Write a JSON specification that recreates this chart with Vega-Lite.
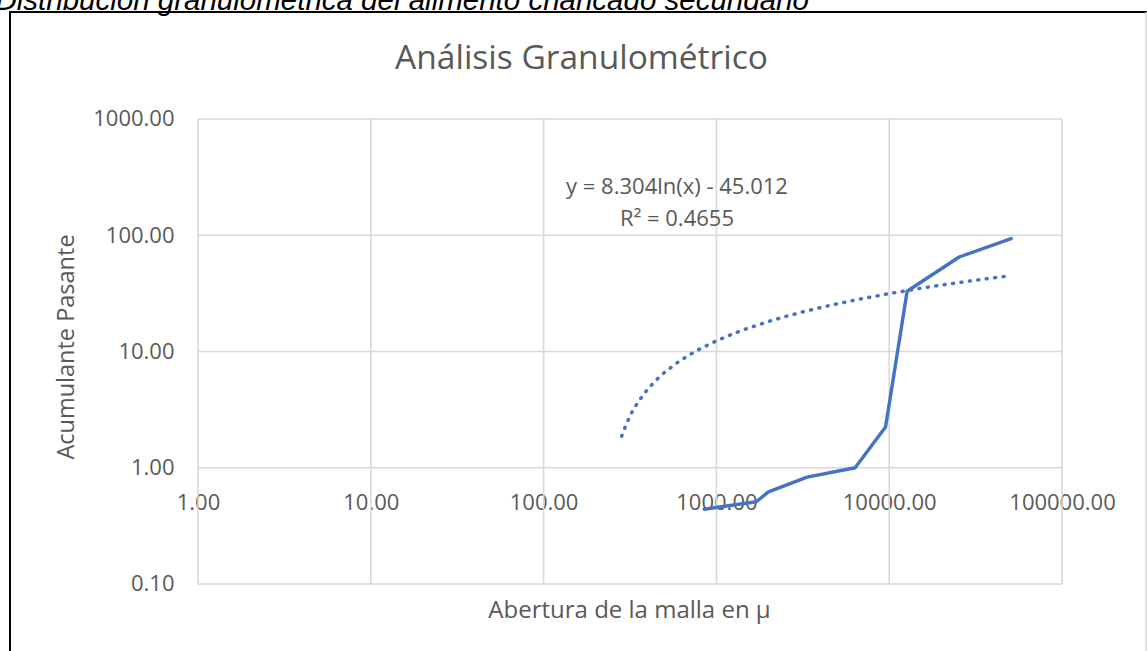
{
  "$schema": "https://vega.github.io/schema/vega-lite/v6.json",
  "width": 1140,
  "height": 645,
  "autosize": {"type": "none"},
  "padding": {"left": 10, "top": 12, "right": 0, "bottom": 0},
  "background": "white",
  "config": {
    "view": {"stroke": "#000000", "strokeWidth": 2, "fill": "white"},
    "font": "Open Sans"
  },
  "datasets": {
    "tamiz": [
      {"abertura": 850, "pasante": 0.44},
      {"abertura": 1700, "pasante": 0.51},
      {"abertura": 2000, "pasante": 0.62},
      {"abertura": 3350, "pasante": 0.83},
      {"abertura": 6350, "pasante": 1.0},
      {"abertura": 9525, "pasante": 2.24},
      {"abertura": 12700, "pasante": 33.0},
      {"abertura": 25400, "pasante": 65.0},
      {"abertura": 50800, "pasante": 93.7}
    ],
    "tendencia": [
      {"abertura": 283, "pasante": 1.867},
      {"abertura": 300, "pasante": 2.352},
      {"abertura": 325, "pasante": 3.017},
      {"abertura": 350, "pasante": 3.632},
      {"abertura": 400, "pasante": 4.741},
      {"abertura": 450, "pasante": 5.719},
      {"abertura": 500, "pasante": 6.594},
      {"abertura": 600, "pasante": 8.108},
      {"abertura": 700, "pasante": 9.388},
      {"abertura": 800, "pasante": 10.497},
      {"abertura": 1000, "pasante": 12.35},
      {"abertura": 1250, "pasante": 14.203},
      {"abertura": 1500, "pasante": 15.717},
      {"abertura": 2000, "pasante": 18.106},
      {"abertura": 2500, "pasante": 19.959},
      {"abertura": 3000, "pasante": 21.473},
      {"abertura": 4000, "pasante": 23.861},
      {"abertura": 5000, "pasante": 25.715},
      {"abertura": 7000, "pasante": 28.509},
      {"abertura": 10000, "pasante": 31.47},
      {"abertura": 15000, "pasante": 34.838},
      {"abertura": 20000, "pasante": 37.227},
      {"abertura": 30000, "pasante": 40.594},
      {"abertura": 40000, "pasante": 42.982},
      {"abertura": 50800, "pasante": 44.968}
    ],
    "ecuacion": [
      {"linea1": "y = 8.304ln(x) - 45.012", "linea2": "R² = 0.4655"}
    ],
    "xgrid": [{"v": 1}, {"v": 10}, {"v": 100}, {"v": 1000}, {"v": 10000}, {"v": 100000}],
    "ygrid": [{"v": 0.1}, {"v": 1}, {"v": 10}, {"v": 100}, {"v": 1000}]
  },
  "resolve": {"axis": {"x": "independent", "y": "independent"}},
  "layer": [
    {
      "data": {"name": "ecuacion"},
      "mark": {"type": "rule", "color": "#d9d9d9", "strokeWidth": 1.5},
      "encoding": {
        "x": {"datum": 306300, "type": "quantitative", "scale": {"type": "log", "domain": [0.08166, 323000], "nice": false, "zero": false}, "axis": null},
        "y": {"datum": 0.02355, "type": "quantitative", "scale": {"type": "log", "domain": [0.02355, 8326], "nice": false, "zero": false}, "axis": null},
        "y2": {"datum": 8326}
      }
    },
    {
      "data": {"name": "xgrid"},
      "mark": {"type": "rule", "color": "#d9d9d9", "strokeWidth": 1.6},
      "encoding": {
        "x": {"field": "v", "type": "quantitative", "scale": {"type": "log", "domain": [0.08166, 323000], "nice": false, "zero": false}, "axis": null},
        "y": {"datum": 0.1, "type": "quantitative", "scale": {"type": "log", "domain": [0.02355, 8326], "nice": false, "zero": false}, "axis": null},
        "y2": {"datum": 1000}
      }
    },
    {
      "data": {"name": "ygrid"},
      "mark": {"type": "rule", "color": "#d9d9d9", "strokeWidth": 1.6},
      "encoding": {
        "y": {"field": "v", "type": "quantitative", "scale": {"type": "log", "domain": [0.02355, 8326], "nice": false, "zero": false}, "axis": null},
        "x": {"datum": 1, "type": "quantitative", "scale": {"type": "log", "domain": [0.08166, 323000], "nice": false, "zero": false}, "axis": null},
        "x2": {"datum": 100000}
      }
    },
    {
      "data": {"name": "tendencia"},
      "mark": {"type": "line", "color": "#4472C4", "strokeWidth": 3.5, "strokeDash": [1, 7.5], "strokeCap": "round"},
      "encoding": {
        "x": {
          "field": "abertura", "type": "quantitative",
          "scale": {"type": "log", "domain": [0.08166, 323000], "nice": false, "zero": false},
          "axis": {
            "orient": "top", "domain": false, "ticks": false, "labels": false, "grid": false, "tickSize": 0,
            "title": "Análisis Granulométrico", "titleFont": "Open Sans", "titleFontSize": 33.5, "titleFontWeight": "normal",
            "titleColor": "#595959", "titleX": 571, "titleY": 56, "titleAlign": "center", "titleBaseline": "alphabetic"
          }
        },
        "y": {
          "field": "pasante", "type": "quantitative",
          "scale": {"type": "log", "domain": [0.02355, 8326], "nice": false, "zero": false},
          "axis": {
            "orient": "right", "domain": false, "ticks": false, "labels": false, "grid": false, "tickSize": 0,
            "title": "Distribución granulométrica del alimento chancado secundario",
            "titleFont": "Liberation Sans", "titleFontStyle": "italic", "titleFontSize": 29.5, "titleFontWeight": "normal",
            "titleColor": "#000000", "titleAngle": 0, "titleX": -1155, "titleY": -3, "titleAlign": "left", "titleBaseline": "alphabetic"
          }
        }
      }
    },
    {
      "data": {"name": "tamiz"},
      "mark": {"type": "line", "color": "#4472C4", "strokeWidth": 3.4, "strokeJoin": "round", "strokeCap": "round"},
      "encoding": {
        "x": {
          "field": "abertura", "type": "quantitative",
          "scale": {"type": "log", "domain": [0.08166, 323000], "nice": false, "zero": false},
          "axis": {
            "orient": "bottom", "offset": -189.5, "domain": false, "ticks": false, "tickSize": 0, "grid": false,
            "values": [1, 10, 100, 1000, 10000, 100000], "format": ".2f",
            "labelFont": "Open Sans", "labelFontSize": 22, "labelColor": "#595959",
            "labelBaseline": "alphabetic", "labelPadding": 41.5, "labelFlush": false, "labelOverlap": false,
            "title": "Abertura de la malla en µ", "titleFont": "Open Sans", "titleFontSize": 24, "titleFontWeight": "normal",
            "titleColor": "#595959", "titleX": 619, "titleY": 149.5, "titleAlign": "center", "titleBaseline": "alphabetic"
          }
        },
        "y": {
          "field": "pasante", "type": "quantitative",
          "scale": {"type": "log", "domain": [0.02355, 8326], "nice": false, "zero": false},
          "axis": {
            "orient": "left", "offset": -188, "domain": false, "ticks": false, "tickSize": 0, "grid": false,
            "values": [0.1, 1, 10, 100, 1000], "format": ".2f",
            "labelFont": "Open Sans", "labelFontSize": 22, "labelColor": "#595959",
            "labelBaseline": "middle", "labelPadding": 24, "labelFlush": false, "labelOverlap": false,
            "title": "Acumulante Pasante", "titleFont": "Open Sans", "titleFontSize": 23.5, "titleFontWeight": "normal",
            "titleColor": "#595959", "titleAngle": -90, "titleX": -132, "titleY": 334.5, "titleAlign": "center", "titleBaseline": "middle"
          }
        }
      }
    },
    {
      "data": {"name": "ecuacion"},
      "mark": {"type": "text", "font": "Open Sans", "fontSize": 22, "color": "#595959", "align": "center", "baseline": "middle"},
      "encoding": {
        "x": {"datum": 591.5, "type": "quantitative", "scale": {"type": "log", "domain": [0.08166, 323000], "nice": false, "zero": false}, "axis": null},
        "y": {"datum": 258.8, "type": "quantitative", "scale": {"type": "log", "domain": [0.02355, 8326], "nice": false, "zero": false}, "axis": null},
        "text": {"field": "linea1"}
      }
    },
    {
      "data": {"name": "ecuacion"},
      "mark": {"type": "text", "font": "Open Sans", "fontSize": 22, "color": "#595959", "align": "center", "baseline": "middle"},
      "encoding": {
        "x": {"datum": 591.5, "type": "quantitative", "scale": {"type": "log", "domain": [0.08166, 323000], "nice": false, "zero": false}, "axis": null},
        "y": {"datum": 137.3, "type": "quantitative", "scale": {"type": "log", "domain": [0.02355, 8326], "nice": false, "zero": false}, "axis": null},
        "text": {"field": "linea2"}
      }
    }
  ]
}
